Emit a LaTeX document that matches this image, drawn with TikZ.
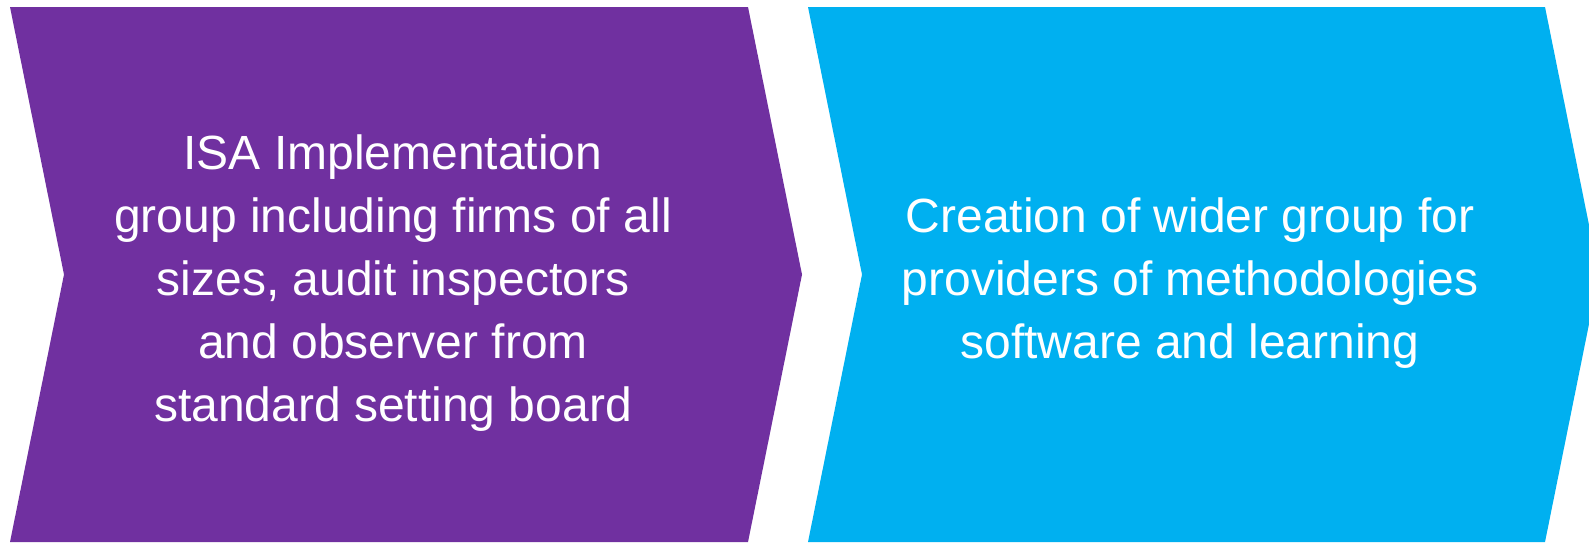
\documentclass[tikz,border=0pt]{standalone}
\usepackage{fontspec}
\setmainfont{Liberation Sans}
\definecolor{isapurple}{HTML}{7030A0}
\definecolor{isablue}{HTML}{00B0F0}

\begin{document}
\begin{tikzpicture}[x=1pt,y=-1pt]
  \tikzstyle{every node}+=[inner sep=0pt, text=white, align=center, font=\fontsize{48}{63}\selectfont]
  \useasboundingbox (0,0) rectangle (1589,542);
  \clip (0,0) rectangle (1589,542);
  % the two chevrons
  \fill [isapurple] (10,7) -- (748,7) -- (802,274.5) -- (748,542) -- (10,542) -- (64,274.5) -- cycle;
  \fill [isablue] (808,7) -- (1545,7) -- (1599,274.5) -- (1545,542) -- (808,542) -- (862,274.5) -- cycle;
  % their texts
  \node (implgroup) at (393,283) {ISA Implementation\\group including firms of all\\sizes, audit inspectors\\and observer from\\standard setting board};
  \node (widergroup) at (1190,283) {Creation of wider group for\\providers of methodologies\\software and learning};
\end{tikzpicture}
\end{document}
